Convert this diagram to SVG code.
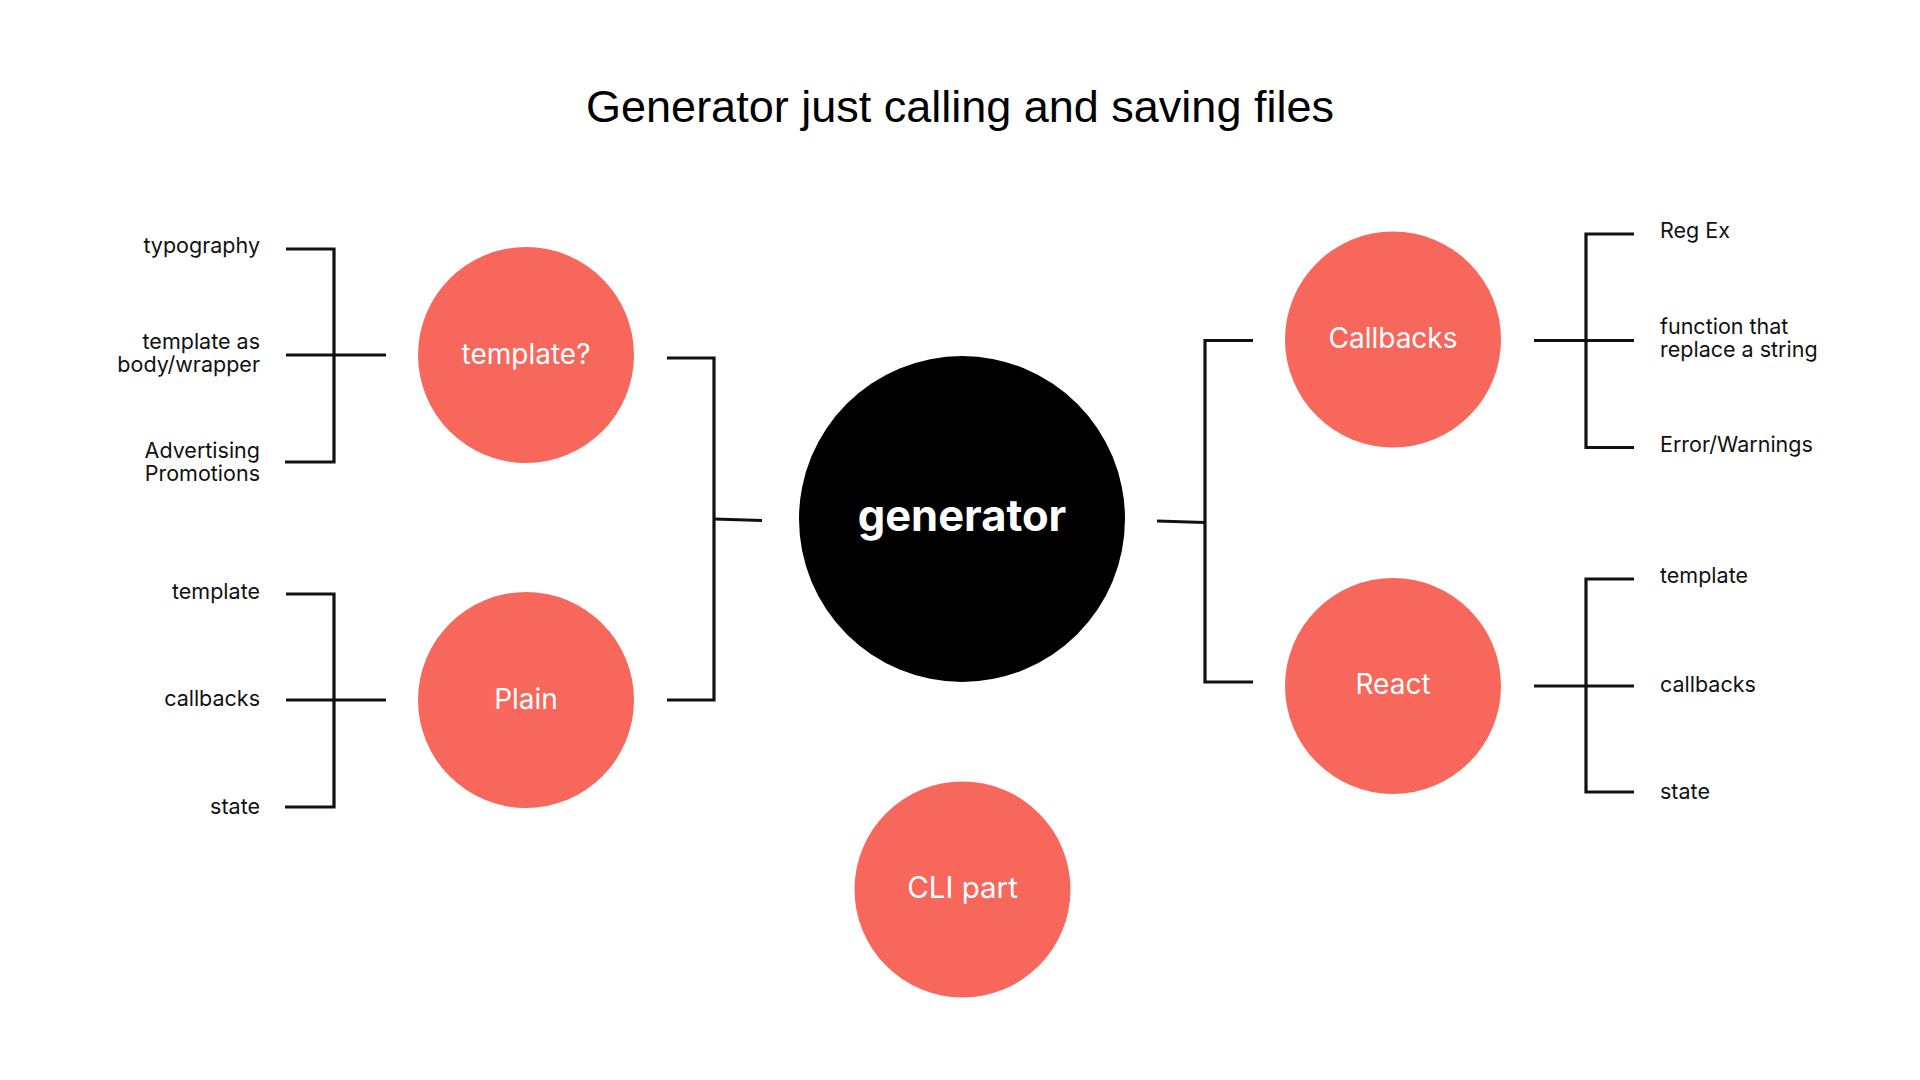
<svg xmlns="http://www.w3.org/2000/svg" width="1920" height="1080" viewBox="0 0 1920 1080">
<style>
.bg{fill:#ffffff}
.node{fill:#F8675B}
.hub{fill:#000000}
.nl{font-family:Inter,"Liberation Sans",sans-serif;font-size:28px;fill:#ffffff;text-anchor:middle}
.hl{font-family:Inter,"Liberation Sans",sans-serif;font-size:43.5px;font-weight:700;fill:#ffffff;text-anchor:middle}
.lab{font-family:Inter,"Liberation Sans",sans-serif;font-size:21.5px;fill:#111111}
.l{text-anchor:end}
.title{font-family:"Liberation Sans",Arial,sans-serif;font-size:45px;fill:#000000;text-anchor:middle}
.c{fill:none;stroke:#111111;stroke-width:3.2;stroke-linecap:butt;stroke-linejoin:miter}
</style>
<rect class="bg" x="0" y="0" width="1920" height="1080"/>
<text class="title" x="960" y="122">Generator just calling and saving files</text>
<g id="connectors">
<path class="c" d="M286,249 H334 V462 H285"/>
<path class="c" d="M286,355 H386"/>
<path class="c" d="M286,594 H334 V807 H285"/>
<path class="c" d="M286,700 H386"/>
<path class="c" d="M667,358 H714 V700 H667"/>
<path class="c" d="M714,519 L762,520.5"/>
<path class="c" d="M1157,521 L1205,522.5"/>
<path class="c" d="M1253,340.5 H1205 V682 H1253"/>
<path class="c" d="M1534,340.5 H1634"/>
<path class="c" d="M1634,234 H1586 V447.5 H1634"/>
<path class="c" d="M1534,686 H1634"/>
<path class="c" d="M1634,579 H1586 V792 H1634"/>
</g>
<g id="node-generator">
<circle class="hub" cx="962" cy="519" r="163"/>
<text class="hl" x="962" y="531">generator</text>
</g>
<g id="node-template">
<circle class="node" cx="526" cy="355" r="108"/>
<text class="nl" x="526" y="364">template?</text>
</g>
<g id="node-plain">
<circle class="node" cx="526" cy="700" r="108"/>
<text class="nl" x="526" y="709">Plain</text>
</g>
<g id="node-callbacks">
<circle class="node" cx="1393" cy="339.5" r="108"/>
<text class="nl" x="1393" y="348">Callbacks</text>
</g>
<g id="node-react">
<circle class="node" cx="1393" cy="686" r="108"/>
<text class="nl" x="1393" y="694">React</text>
</g>
<g id="node-cli">
<circle class="node" cx="962.5" cy="889.5" r="108"/>
<text class="nl" x="962.5" y="898" style="font-size:29.5px">CLI part</text>
</g>
<g id="labels-template">
<text class="lab l" x="260" y="253">typography</text>
<text class="lab l" x="260" y="349">template as</text>
<text class="lab l" x="260" y="372">body/wrapper</text>
<text class="lab l" x="260" y="458">Advertising</text>
<text class="lab l" x="260" y="481">Promotions</text>
</g>
<g id="labels-plain">
<text class="lab l" x="260" y="599">template</text>
<text class="lab l" x="260" y="706">callbacks</text>
<text class="lab l" x="260" y="814">state</text>
</g>
<g id="labels-callbacks">
<text class="lab" x="1660" y="238">Reg Ex</text>
<text class="lab" x="1660" y="334">function that</text>
<text class="lab" x="1660" y="357">replace a string</text>
<text class="lab" x="1660" y="452">Error/Warnings</text>
</g>
<g id="labels-react">
<text class="lab" x="1660" y="583">template</text>
<text class="lab" x="1660" y="692">callbacks</text>
<text class="lab" x="1660" y="799">state</text>
</g>
</svg>
